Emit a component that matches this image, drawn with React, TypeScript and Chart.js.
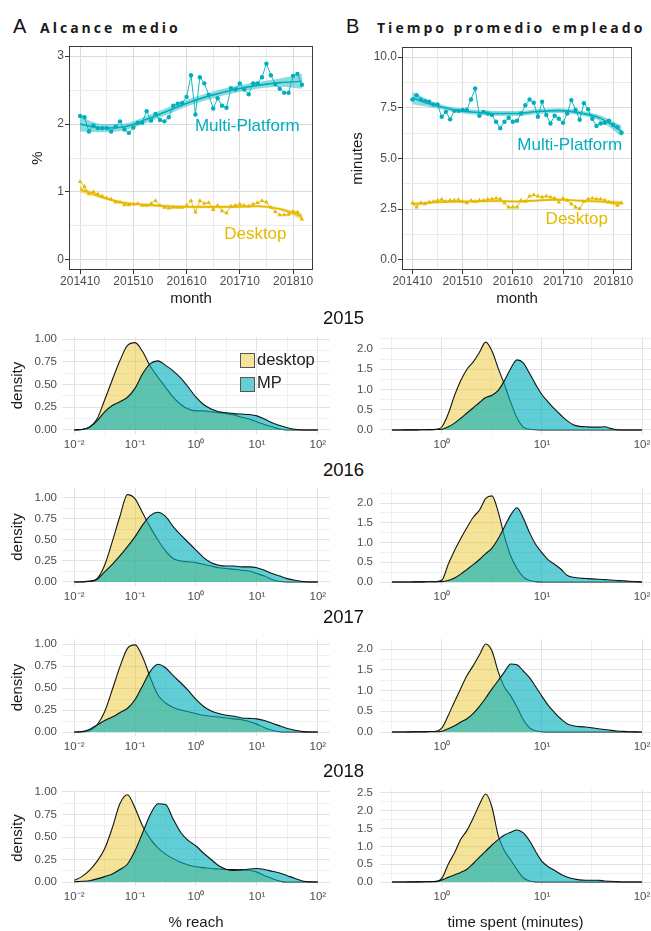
import React, { useEffect, useRef } from "react";
import { Chart, registerables } from "chart.js";

Chart.register(...registerables);

const FONT = '"Liberation Sans", Arial, Helvetica, sans-serif';
const TEAL = "#00AFBB";
const GOLD = "#E7B800";
const TICK_COLOR = "#4d4d4d";
const TITLE_COLOR = "#1a1a1a";

// ---------------- Panels A / B : monthly series ----------------
const monthIdx = [0,1,2,3,4,5,6,7,8,9,10,11,12,13,14,15,16,17,18,19,20,21,22,23,24,25,26,27,28,29,30,31,32,33,34,35,36,37,38,39,40,41,42,43,44,45,46,47,48,49,50];
const monthTickVals = [0, 6, 12, 18, 24, 30, 36, 42, 48];
const monthTickLabels = ["201410", "", "201510", "", "201610", "", "201710", "", "201810"];

const mpReach = [2.12,2.10,1.89,1.98,1.94,1.94,1.94,1.89,1.96,2.04,1.92,1.87,1.95,2.02,2.02,2.19,2.05,2.15,2.06,2.04,2.10,2.27,2.30,2.31,2.40,2.72,2.14,2.69,2.60,2.43,2.23,2.38,2.27,2.24,2.53,2.51,2.60,2.51,2.44,2.60,2.60,2.69,2.89,2.72,2.59,2.52,2.46,2.46,2.71,2.74,2.58];
const dtReach = [1.15,1.08,0.97,1.00,0.97,0.94,0.91,0.89,0.85,0.85,0.81,0.81,0.82,0.83,0.80,0.80,0.83,0.87,0.80,0.77,0.76,0.77,0.77,0.77,0.80,0.87,0.70,0.87,0.83,0.84,0.74,0.80,0.72,0.69,0.79,0.80,0.82,0.80,0.79,0.82,0.84,0.87,0.85,0.77,0.71,0.66,0.66,0.67,0.71,0.70,0.60];
const mpTime = [7.91,8.12,7.91,7.83,7.80,7.66,7.66,7.06,7.30,6.93,7.35,7.35,7.40,7.40,7.91,8.45,7.11,7.30,7.22,7.15,6.81,6.49,6.81,7.01,6.81,6.86,7.22,7.63,7.91,7.75,7.06,7.80,7.15,6.73,7.11,6.96,6.76,7.22,7.88,7.40,6.91,7.73,7.43,6.96,6.60,6.73,6.76,6.86,6.65,6.54,6.27];
const dtTime = [2.81,2.60,2.81,2.76,2.85,2.88,2.93,2.98,2.88,2.93,2.93,2.96,2.88,2.81,2.93,2.88,2.93,2.93,2.98,3.00,3.04,3.00,2.81,2.60,2.60,2.60,2.93,2.88,3.14,3.20,3.14,3.09,3.14,3.09,3.04,2.85,3.04,2.93,2.76,2.60,2.52,2.88,3.00,3.04,3.00,3.00,2.93,2.85,2.81,2.68,2.81];

// smoothed trend (loess) and its band
const smoothMonths = [0, 5, 10, 15, 20, 25, 30, 35, 40, 45, 50];
const mpReachFit = [2.00,1.94,1.96,2.07,2.20,2.33,2.43,2.51,2.57,2.61,2.63];
const mpReachLo = [1.89,1.88,1.91,2.02,2.15,2.28,2.38,2.46,2.52,2.55,2.52];
const mpReachHi = [2.11,2.00,2.01,2.12,2.25,2.38,2.48,2.56,2.62,2.67,2.74];
const dtReachFit = [1.04,0.92,0.84,0.81,0.79,0.78,0.78,0.78,0.79,0.75,0.64];
const dtReachLo = [0.99,0.90,0.82,0.79,0.77,0.76,0.76,0.76,0.77,0.73,0.59];
const dtReachHi = [1.09,0.94,0.86,0.83,0.81,0.80,0.80,0.80,0.81,0.77,0.69];
const mpTimeFit = [7.98,7.65,7.40,7.28,7.22,7.22,7.32,7.36,7.25,6.98,6.35];
const mpTimeLo = [7.68,7.51,7.28,7.16,7.10,7.10,7.20,7.24,7.13,6.84,6.08];
const mpTimeHi = [8.28,7.79,7.52,7.40,7.34,7.34,7.44,7.48,7.37,7.12,6.62];
const dtTimeFit = [2.75,2.83,2.87,2.88,2.90,2.88,2.93,2.97,2.92,2.88,2.80];
const dtTimeLo = [2.65,2.77,2.81,2.82,2.84,2.82,2.87,2.91,2.86,2.81,2.69];
const dtTimeHi = [2.85,2.89,2.93,2.94,2.96,2.94,2.99,3.03,2.98,2.95,2.91];

const reachTickVals = [0, 0.5, 1, 1.5, 2, 2.5, 3];
const reachTickLabels = ["0", "", "1", "", "2", "", "3"];
const timeTickVals = [0, 1.25, 2.5, 3.75, 5, 6.25, 7.5, 8.75, 10];
const timeTickLabels = ["0.0", "", "2.5", "", "5.0", "", "7.5", "", "10.0"];

// ---------------- Density panels ----------------
const reachGrid = [0.01,0.01334,0.01778,0.02371,0.03162,0.04217,0.05623,0.07499,0.1,0.1334,0.1778,0.2371,0.3162,0.4217,0.5623,0.7499,1,1.334,1.778,2.371,3.162,4.217,5.623,7.499,10,13.34,17.78,23.71,31.62,42.17,56.23,74.99,100];
const timeGrid = [0.3162,0.3652,0.4217,0.4870,0.5623,0.6494,0.7499,0.8660,1,1.155,1.334,1.540,1.778,2.054,2.371,2.738,3.162,3.652,4.217,4.870,5.623,6.494,7.499,8.660,10,11.55,13.34,15.40,17.78,20.54,23.71,27.38,31.62,36.52,42.17,48.70,56.23,64.94,74.99,86.60,100];

const dReach2015 = [0,0.005,0.03,0.12,0.33,0.55,0.76,0.93,0.96,0.86,0.70,0.58,0.47,0.36,0.28,0.23,0.21,0.21,0.20,0.19,0.18,0.165,0.14,0.12,0.09,0.06,0.035,0.01,0,0,0,0,0];
const mReach2015 = [0,0.005,0.03,0.10,0.20,0.27,0.31,0.36,0.46,0.62,0.73,0.76,0.71,0.65,0.57,0.47,0.36,0.28,0.23,0.20,0.19,0.18,0.175,0.17,0.155,0.12,0.08,0.05,0.025,0.008,0,0,0];
const dReach2016 = [0,0.002,0.01,0.04,0.20,0.48,0.78,1.04,0.99,0.82,0.65,0.50,0.37,0.28,0.25,0.24,0.23,0.21,0.19,0.17,0.16,0.15,0.14,0.13,0.10,0.07,0.03,0.005,0,0,0,0,0];
const mReach2016 = [0,0,0.005,0.03,0.12,0.21,0.31,0.42,0.54,0.68,0.79,0.83,0.78,0.66,0.56,0.47,0.38,0.29,0.23,0.20,0.19,0.19,0.18,0.18,0.17,0.14,0.10,0.07,0.04,0.02,0.005,0,0];
const dReach2017 = [0,0.003,0.015,0.08,0.23,0.48,0.74,0.95,0.99,0.85,0.62,0.42,0.33,0.28,0.25,0.23,0.21,0.19,0.18,0.17,0.16,0.15,0.14,0.12,0.09,0.05,0.02,0.003,0,0,0,0,0];
const mReach2017 = [0,0.005,0.03,0.08,0.13,0.17,0.22,0.27,0.37,0.53,0.69,0.77,0.73,0.64,0.56,0.47,0.37,0.29,0.24,0.21,0.19,0.18,0.16,0.155,0.15,0.13,0.10,0.07,0.04,0.02,0.005,0,0];
const dReach2018 = [0.02,0.06,0.13,0.23,0.37,0.60,0.87,0.97,0.82,0.62,0.48,0.38,0.31,0.26,0.22,0.19,0.17,0.16,0.15,0.145,0.14,0.14,0.135,0.13,0.11,0.07,0.04,0.01,0,0,0,0,0];
const mReach2018 = [0.003,0.008,0.015,0.035,0.06,0.09,0.14,0.20,0.35,0.55,0.75,0.87,0.86,0.70,0.55,0.46,0.40,0.32,0.25,0.18,0.14,0.13,0.135,0.145,0.15,0.14,0.12,0.10,0.07,0.04,0.012,0.002,0];

const dTime2015 = [0,0,0.002,0.003,0.004,0.006,0.008,0.015,0.08,0.40,0.85,1.22,1.50,1.68,1.92,2.17,1.95,1.52,1.12,0.68,0.30,0.07,0.02,0.005,0,0,0,0,0,0,0,0,0,0,0,0,0,0,0,0,0];
const mTime2015 = [0,0,0.002,0.003,0.004,0.006,0.008,0.012,0.02,0.08,0.17,0.29,0.42,0.55,0.68,0.80,0.86,0.98,1.22,1.52,1.73,1.66,1.40,1.12,0.87,0.69,0.52,0.37,0.23,0.13,0.09,0.08,0.07,0.07,0.08,0.04,0.005,0,0,0,0];
const dTime2016 = [0,0,0.001,0.002,0.003,0.004,0.006,0.01,0.05,0.45,0.80,1.10,1.38,1.64,1.82,2.12,2.18,1.77,1.15,0.66,0.34,0.13,0.04,0.01,0,0,0,0,0,0,0,0,0,0,0,0,0,0,0,0,0];
const mTime2016 = [0,0,0.001,0.002,0.003,0.004,0.006,0.008,0.01,0.04,0.10,0.20,0.32,0.44,0.57,0.72,0.86,1.10,1.40,1.70,1.88,1.62,1.25,0.95,0.74,0.56,0.45,0.33,0.17,0.12,0.10,0.09,0.08,0.07,0.06,0.05,0.04,0.03,0.02,0.01,0];
const dTime2017 = [0,0,0.002,0.003,0.005,0.008,0.012,0.02,0.10,0.40,0.73,1.05,1.36,1.60,1.86,2.12,1.95,1.45,1.08,0.87,0.60,0.30,0.10,0.03,0.005,0,0,0,0,0,0,0,0,0,0,0,0,0,0,0,0];
const mTime2017 = [0,0,0.001,0.002,0.003,0.004,0.005,0.005,0.02,0.08,0.15,0.24,0.32,0.45,0.62,0.82,1.04,1.24,1.45,1.64,1.62,1.47,1.31,1.09,0.86,0.64,0.47,0.32,0.20,0.15,0.13,0.12,0.10,0.08,0.06,0.04,0.025,0.015,0.008,0.003,0];
const dTime2018 = [0,0,0.002,0.003,0.005,0.008,0.01,0.02,0.11,0.50,0.82,1.20,1.45,1.80,2.18,2.47,2.10,1.30,0.87,0.62,0.35,0.12,0.03,0.005,0,0,0,0,0,0,0,0,0,0,0,0,0,0,0,0,0];
const mTime2018 = [0,0,0.001,0.002,0.003,0.005,0.008,0.01,0.06,0.13,0.20,0.27,0.36,0.52,0.70,0.87,1.04,1.19,1.32,1.40,1.46,1.38,1.16,0.85,0.58,0.43,0.33,0.22,0.14,0.09,0.06,0.05,0.05,0.05,0.03,0.02,0.01,0,0,0,0];

const reachXTickVals = [0.01, 0.03162, 0.1, 0.3162, 1, 3.162, 10, 31.62, 100];
const reachXTickLabels = ["10\u207B\u00B2", "", "10\u207B\u00B9", "", "10\u2070", "", "10\u00B9", "", "10\u00B2"];
const timeXTickVals = [0.3162, 1, 3.162, 10, 31.62, 100];
const timeXTickLabels = ["", "10\u2070", "", "10\u00B9", "", "10\u00B2"];
const densReachYVals = [0, 0.125, 0.25, 0.375, 0.5, 0.625, 0.75, 0.875, 1];
const densReachYLabels = ["0.00", "", "0.25", "", "0.50", "", "0.75", "", "1.00"];
const densTimeYVals = [0, 0.25, 0.5, 0.75, 1, 1.25, 1.5, 1.75, 2, 2.25, 2.5];
const densTimeYLabels = ["0.0", "", "0.5", "", "1.0", "", "1.5", "", "2.0", "", "2.5"];

const years = ["2015", "2016", "2017", "2018"];
const rowTop = [337, 488, 639, 790];
const rowBottom = [434, 586, 736, 886];
const rowTitleTop = [309, 461, 608, 762];
const reachYRange = [[-0.044, 1.022], [-0.048, 1.119], [-0.045, 1.057], [-0.044, 1.022]];
const timeYRange = [[-0.099, 2.296], [-0.101, 2.38], [-0.096, 2.241], [-0.112, 2.584]];
const deskReach = [dReach2015, dReach2016, dReach2017, dReach2018];
const mpReachD = [mReach2015, mReach2016, mReach2017, mReach2018];
const deskTime = [dTime2015, dTime2016, dTime2017, dTime2018];
const mpTimeD = [mTime2015, mTime2016, mTime2017, mTime2018];

// ---------------- helpers ----------------
function borderPlugin() {
  return {
    id: "panelBorder",
    afterDatasetsDraw(chart: any) {
      const { ctx, chartArea: a } = chart;
      ctx.save();
      ctx.strokeStyle = "#3a3a3a";
      ctx.lineWidth = 1;
      ctx.strokeRect(Math.round(a.left) + 0.5, Math.round(a.top) + 0.5, Math.round(a.right - a.left) - 1, Math.round(a.bottom - a.top) - 1);
      ctx.restore();
    },
  };
}

function textPlugin(items: any[]) {
  return {
    id: "panelText",
    afterDatasetsDraw(chart: any) {
      const { ctx } = chart;
      const xs = chart.scales.x;
      const ys = chart.scales.y;
      ctx.save();
      items.forEach((it) => {
        ctx.font = `${it.size}px ${FONT}`;
        ctx.fillStyle = it.color;
        ctx.textAlign = "center";
        ctx.textBaseline = "middle";
        ctx.fillText(it.text, xs.getPixelForValue(it.x), ys.getPixelForValue(it.y));
      });
      ctx.restore();
    },
  };
}

function fixScale(dim: "width" | "height", size: number) {
  return (s: any) => {
    s[dim] = size;
    s.paddingLeft = 0;
    s.paddingRight = 0;
    s.paddingTop = 0;
    s.paddingBottom = 0;
  };
}

function setTicks(vals: number[]) {
  return (s: any) => {
    s.ticks = vals.filter((v) => v >= s.min - 1e-9 && v <= s.max + 1e-9).map((v) => ({ value: v }));
  };
}

function trendConfig(o: any) {
  const pts = (ys: number[]) => ys.map((y, i) => ({ x: monthIdx[i], y }));
  const sm = (ys: number[]) => ys.map((y, i) => ({ x: smoothMonths[i], y }));
  const xMap = new Map(monthTickVals.map((v, i) => [v, monthTickLabels[i]]));
  const yMap = new Map(o.yTickVals.map((v: number, i: number) => [v, o.yTickLabels[i]]));
  const none = "rgba(0,0,0,0)";
  const band = (data: any, order: number, fill: any, bg: string) => ({
    data, order, fill, backgroundColor: bg, borderColor: none, borderWidth: 0, pointRadius: 0,
    cubicInterpolationMode: "monotone",
  });
  const datasets: any[] = [
    { label: "Desktop", data: pts(o.dtRaw), order: 8, borderColor: GOLD, borderWidth: 0.9, pointStyle: "triangle",
      pointRadius: 2.6, pointBackgroundColor: GOLD, pointBorderColor: GOLD, pointBorderWidth: 0, fill: false },
    { label: "Multi-Platform", data: pts(o.mpRaw), order: 7, borderColor: TEAL, borderWidth: 0.9, pointStyle: "circle",
      pointRadius: 2.2, pointBackgroundColor: TEAL, pointBorderColor: TEAL, pointBorderWidth: 0, fill: false },
    band(sm(o.dtLo), 6, false, none),
    band(sm(o.dtHi), 5, 2, "rgba(231,184,0,0.45)"),
    { label: "Desktop fit", data: sm(o.dtFit), order: 4, borderColor: GOLD, borderWidth: 1.6, pointRadius: 0,
      cubicInterpolationMode: "monotone", fill: false },
    band(sm(o.mpLo), 3, false, none),
    band(sm(o.mpHi), 2, 5, "rgba(0,175,187,0.45)"),
    { label: "MP fit", data: sm(o.mpFit), order: 1, borderColor: TEAL, borderWidth: 1.6, pointRadius: 0,
      cubicInterpolationMode: "monotone", fill: false },
  ];
  const gridColor = (m: Map<any, any>) => (c: any) => (m.get(c.tick && c.tick.value) ? "#dcdcdc" : "#ebebeb");
  const tickColor = (m: Map<any, any>) => (c: any) => (m.get(c.tick && c.tick.value) ? "#333333" : "rgba(0,0,0,0)");
  return {
    type: "line",
    data: { datasets },
    options: {
      responsive: false,
      animation: false,
      events: [],
      layout: { padding: { top: o.padTop, right: o.padRight, bottom: 0, left: 0 } },
      plugins: { legend: { display: false }, tooltip: { enabled: false }, title: { display: false } },
      scales: {
        x: {
          type: "linear", min: -2.5, max: 52.5,
          afterBuildTicks: setTicks(monthTickVals),
          afterFit: fixScale("height", o.xAxisH),
          ticks: { autoSkip: false, maxRotation: 0, minRotation: 0, padding: 0, color: TICK_COLOR,
            font: { family: FONT, size: 12 }, callback: (v: any) => xMap.get(v) ?? "" },
          grid: { color: gridColor(xMap), tickColor: tickColor(xMap), tickLength: 4, drawTicks: true, lineWidth: 1 },
          border: { display: false },
          title: { display: true, text: "month", color: TITLE_COLOR, font: { family: FONT, size: 15 }, padding: 0 },
        },
        y: {
          type: "linear", min: o.yMin, max: o.yMax,
          afterBuildTicks: setTicks(o.yTickVals),
          afterFit: fixScale("width", o.yAxisW),
          ticks: { autoSkip: false, padding: 1, color: TICK_COLOR, font: { family: FONT, size: 12 },
            callback: (v: any) => yMap.get(v) ?? "" },
          grid: { color: gridColor(yMap), tickColor: tickColor(yMap), tickLength: 4, drawTicks: true, lineWidth: 1 },
          border: { display: false },
          title: { display: true, text: o.yTitle, color: TITLE_COLOR, font: { family: FONT, size: 15 }, padding: 0 },
        },
      },
    },
    plugins: [borderPlugin(), textPlugin(o.labels)],
  };
}

function densityConfig(o: any) {
  const xMap = new Map(o.xTickVals.map((v: number, i: number) => [v, o.xTickLabels[i]]));
  const yMap = new Map(o.yTickVals.map((v: number, i: number) => [v, o.yTickLabels[i]]));
  const mk = (ys: number[]) => o.grid.map((x: number, i: number) => ({ x, y: ys[i] }));
  const gridColor = (m: Map<any, any>) => (c: any) => (m.get(c.tick && c.tick.value) ? "#e3e3e3" : "#f0f0f0");
  return {
    type: "line",
    data: {
      datasets: [
        { label: "MP", data: mk(o.mp), order: 1, fill: "origin", backgroundColor: "rgba(0,175,187,0.62)",
          borderColor: "rgba(10,10,10,0.95)", borderWidth: 1.1, pointRadius: 0, cubicInterpolationMode: "monotone" },
        { label: "desktop", data: mk(o.desk), order: 2, fill: "origin", backgroundColor: "rgba(231,184,0,0.4)",
          borderColor: "rgba(10,10,10,0.95)", borderWidth: 1.1, pointRadius: 0, cubicInterpolationMode: "monotone" },
      ],
    },
    options: {
      responsive: false,
      animation: false,
      events: [],
      layout: { padding: { top: o.padTop, right: o.padRight, bottom: 0, left: 0 } },
      plugins: { legend: { display: false }, tooltip: { enabled: false }, title: { display: false } },
      scales: {
        x: {
          type: "logarithmic", min: o.xMin, max: o.xMax,
          afterBuildTicks: setTicks(o.xTickVals),
          afterFit: fixScale("height", o.xAxisH),
          ticks: { autoSkip: false, maxRotation: 0, minRotation: 0, padding: 4, color: TICK_COLOR,
            font: { family: FONT, size: 11.5 }, callback: (v: any) => xMap.get(v) ?? "" },
          grid: { color: gridColor(xMap), drawTicks: false, lineWidth: 1 },
          border: { display: false },
          title: { display: !!o.xTitle, text: o.xTitle || "", color: TITLE_COLOR, font: { family: FONT, size: 15 }, padding: 0 },
        },
        y: {
          type: "linear", min: o.yMin, max: o.yMax,
          afterBuildTicks: setTicks(o.yTickVals),
          afterFit: fixScale("width", o.yAxisW),
          ticks: { autoSkip: false, padding: o.yPad, color: TICK_COLOR, font: { family: FONT, size: 11.5 },
            callback: (v: any) => yMap.get(v) ?? "" },
          grid: { color: gridColor(yMap), drawTicks: false, lineWidth: 1 },
          border: { display: false },
          title: { display: !!o.yTitle, text: o.yTitle || "", color: TITLE_COLOR, font: { family: FONT, size: 15 }, padding: 0 },
        },
      },
    },
  };
}

function ChartBox({ left, top, width, height, build }: any) {
  const ref = useRef<HTMLCanvasElement>(null);
  useEffect(() => {
    const chart = new Chart(ref.current as HTMLCanvasElement, build());
    return () => chart.destroy();
  }, []);
  return (
    <canvas ref={ref} width={width} height={height}
      style={{ position: "absolute", left, top, width, height }} />
  );
}

const headStyle: any = { position: "absolute", fontFamily: FONT, fontSize: 20, lineHeight: "20px", color: "#111", whiteSpace: "nowrap" };
const subStyle: any = { position: "absolute", fontFamily: '"Open Sans", sans-serif', fontWeight: 700, fontSize: 14,
  lineHeight: "14px", letterSpacing: "3px", color: "#1a1a1a", whiteSpace: "nowrap" };

export default function App() {
  const panelA = () =>
    trendConfig({
      mpRaw: mpReach, dtRaw: dtReach, mpFit: mpReachFit, mpLo: mpReachLo, mpHi: mpReachHi,
      dtFit: dtReachFit, dtLo: dtReachLo, dtHi: dtReachHi,
      yMin: -0.15, yMax: 3.15, yTickVals: reachTickVals, yTickLabels: reachTickLabels, yTitle: "%",
      yAxisW: 40, xAxisH: 38, padTop: 8, padRight: 10,
      labels: [
        { text: "Multi-Platform", x: 37.7, y: 1.96, color: TEAL, size: 17 },
        { text: "Desktop", x: 39.5, y: 0.38, color: GOLD, size: 17 },
      ],
    });
  const panelB = () =>
    trendConfig({
      mpRaw: mpTime, dtRaw: dtTime, mpFit: mpTimeFit, mpLo: mpTimeLo, mpHi: mpTimeHi,
      dtFit: dtTimeFit, dtLo: dtTimeLo, dtHi: dtTimeHi,
      yMin: -0.5, yMax: 10.5, yTickVals: timeTickVals, yTickLabels: timeTickLabels, yTitle: "minutes",
      yAxisW: 53, xAxisH: 38, padTop: 8, padRight: 19,
      labels: [
        { text: "Multi-Platform", x: 37.6, y: 5.66, color: TEAL, size: 17 },
        { text: "Desktop", x: 39.3, y: 2.0, color: GOLD, size: 17 },
      ],
    });

  const rows = years.map((yr, r) => {
    const last = r === years.length - 1;
    const xAxisH = last ? 46 : 22;
    const h = 6 + (rowBottom[r] - rowTop[r]) + xAxisH;
    return (
      <React.Fragment key={yr}>
        <div style={{ position: "absolute", left: 303, width: 81, top: rowTitleTop[r], textAlign: "center",
          fontFamily: FONT, fontSize: 18.5, lineHeight: "18.5px", color: "#111" }}>{yr}</div>
        <ChartBox left={9} top={rowTop[r] - 6} width={329} height={h}
          build={() => densityConfig({
            grid: reachGrid, desk: deskReach[r], mp: mpReachD[r],
            xMin: 0.00631, xMax: 158.5, xTickVals: reachXTickVals, xTickLabels: reachXTickLabels,
            yMin: reachYRange[r][0], yMax: reachYRange[r][1], yTickVals: densReachYVals, yTickLabels: densReachYLabels,
            yAxisW: 53, xAxisH, padTop: 6, padRight: 8, yPad: 5, yTitle: "density",
            xTitle: last ? "% reach" : "",
          })} />
        <ChartBox left={330} top={rowTop[r] - 6} width={321} height={h}
          build={() => densityConfig({
            grid: timeGrid, desk: deskTime[r], mp: mpTimeD[r],
            xMin: 0.24, xMax: 123, xTickVals: timeXTickVals, xTickLabels: timeXTickLabels,
            yMin: timeYRange[r][0], yMax: timeYRange[r][1], yTickVals: densTimeYVals, yTickLabels: densTimeYLabels,
            yAxisW: 50, xAxisH, padTop: 6, padRight: 0, yPad: 7, yTitle: "",
            xTitle: last ? "time spent (minutes)" : "",
          })} />
      </React.Fragment>
    );
  });

  return (
    <div style={{ position: "absolute", left: 0, top: 0, width: 651, height: 931, background: "#fff", overflow: "hidden" }}>
      <div style={{ ...headStyle, left: 13, top: 16 }}>A</div>
      <div style={{ ...subStyle, left: 40, top: 20.5 }}>Alcance medio</div>
      <div style={{ ...headStyle, left: 346, top: 16 }}>B</div>
      <div style={{ ...subStyle, left: 377, top: 20.5 }}>Tiempo promedio empleado</div>
      <ChartBox left={29} top={38} width={294} height={270} build={panelA} />
      <ChartBox left={349} top={39} width={302} height={269} build={panelB} />
      {rows}
      <div style={{ position: "absolute", left: 240, top: 353, width: 13, height: 13, background: "#f5e399", border: "1px solid #555" }} />
      <div style={{ position: "absolute", left: 240, top: 377, width: 13, height: 13, background: "#66cfd6", border: "1px solid #555" }} />
      <div style={{ position: "absolute", left: 257, top: 351, fontFamily: FONT, fontSize: 16.5, lineHeight: "16.5px", color: "#222" }}>desktop</div>
      <div style={{ position: "absolute", left: 257, top: 374, fontFamily: FONT, fontSize: 16.5, lineHeight: "16.5px", color: "#222" }}>MP</div>
    </div>
  );
}
